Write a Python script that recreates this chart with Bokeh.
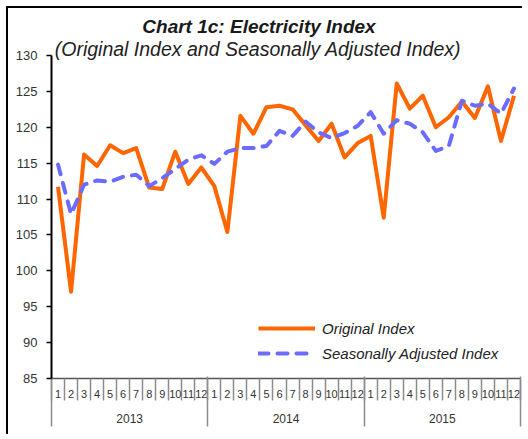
from bokeh.plotting import figure
from bokeh.models import Range1d, LinearAxis, FixedTicker, Legend, LegendItem, Label
from bokeh.embed import file_html
from bokeh.resources import INLINE

# ---- data ----
years = ["2013", "2014", "2015"]
months = ["1", "2", "3", "4", "5", "6", "7", "8", "9", "10", "11", "12"]
original_index = [111.7, 97.1, 116.2, 114.6, 117.5, 116.4, 117.1, 111.6, 111.4, 116.6, 112.1, 114.4,
                  111.8, 105.4, 121.6, 119.1, 122.8, 123.0, 122.5, 120.3, 118.1, 120.5, 115.8, 117.8,
                  118.8, 107.4, 126.1, 122.6, 124.4, 120.0, 121.4, 123.6, 121.3, 125.7, 118.1, 124.4]
seasonally_adjusted = [114.8, 107.9, 112.0, 112.6, 112.4, 113.1, 113.4, 111.8, 112.9, 114.2, 115.5, 116.1,
                       114.9, 116.6, 117.1, 117.1, 117.4, 119.5, 118.8, 120.8, 119.3, 118.5, 119.2, 120.2,
                       122.1, 119.1, 121.0, 120.5, 119.3, 116.7, 117.4, 123.7, 123.0, 123.3, 121.9, 125.4]
y_ticks = [85, 90, 95, 100, 105, 110, 115, 120, 125, 130]
title_text = "Chart 1c: Electricity Index"
subtitle_text = "(Original Index and Seasonally Adjusted Index)"
series_names = ["Original Index", "Seasonally Adjusted Index"]

FONT = "Liberation Sans"
n = len(original_index)
xs = [i + 0.5 for i in range(n)]

p = figure(width=516, height=428, output_backend="svg", toolbar_location=None,
           x_range=Range1d(0, n), y_range=Range1d(85, 136.55),
           min_border_left=43, min_border_right=4, min_border_top=0, min_border_bottom=58,
           x_axis_type=None, y_axis_type=None)
p.outline_line_color = None
p.background_fill_color = "white"
p.border_fill_color = "white"
p.styles = {"border-top": "2px solid #000", "border-left": "2px solid #000",
            "margin-left": "6px", "margin-top": "6px"}

# y axis
yaxis = LinearAxis(ticker=FixedTicker(ticks=y_ticks), bounds=(y_ticks[0], y_ticks[-1]))
yaxis.axis_line_color = "black"
yaxis.axis_line_width = 2
yaxis.major_tick_out = 5
yaxis.major_tick_in = 0
yaxis.major_tick_line_color = "black"
yaxis.major_tick_line_width = 1.5
yaxis.minor_tick_line_color = None
yaxis.major_label_standoff = 9
yaxis.major_label_text_font = FONT
yaxis.major_label_text_font_size = "13px"
yaxis.major_label_text_color = "#333333"
p.add_layout(yaxis, "left")


def overrides(positions, labels):
    d = {}
    for pos, lab in zip(positions, labels):
        d[float(pos)] = lab
        d[f"{pos:g}"] = lab
    return d


# month axis
month_labels = [months[i % 12] for i in range(n)]
boundaries = list(range(n + 1))
maxis = LinearAxis(ticker=FixedTicker(ticks=xs, minor_ticks=boundaries))
maxis.major_label_overrides = overrides(xs, month_labels)
maxis.axis_line_color = "#555555"
maxis.axis_line_width = 1.5
maxis.major_tick_out = 0
maxis.major_tick_in = 0
maxis.minor_tick_out = 22
maxis.minor_tick_in = 0
maxis.minor_tick_line_color = "#8c8c8c"
maxis.minor_tick_line_width = 1.5
maxis.major_label_standoff = -11
maxis.major_label_text_font = FONT
maxis.major_label_text_font_size = "11px"
maxis.major_label_text_color = "#333333"
p.add_layout(maxis, "below")

# year axis
year_centers = [12 * k + 6 for k in range(len(years))]
year_bounds = [12 * k for k in range(len(years) + 1)]
yraxis = LinearAxis(ticker=FixedTicker(ticks=year_centers, minor_ticks=year_bounds))
yraxis.major_label_overrides = overrides(year_centers, years)
yraxis.axis_line_color = None
yraxis.major_tick_out = 0
yraxis.major_tick_in = 0
yraxis.minor_tick_in = 24
yraxis.minor_tick_out = 26
yraxis.minor_tick_line_color = "#8c8c8c"
yraxis.minor_tick_line_width = 1.5
yraxis.major_label_standoff = -13
yraxis.major_label_text_font = FONT
yraxis.major_label_text_font_size = "12px"
yraxis.major_label_text_color = "#333333"
p.add_layout(yraxis, "below")

# series
r1 = p.line(xs, original_index, line_color="#FF6600", line_width=4, line_join="round")
r2 = p.line(xs, seasonally_adjusted, line_color="#6B6BFF", line_width=4,
            line_dash="10 9", line_cap="round", line_join="round")

legend = Legend(items=[LegendItem(label=series_names[0], renderers=[r1]),
                       LegendItem(label=series_names[1], renderers=[r2])],
                location=(207, 15))
legend.glyph_width = 57
legend.glyph_height = 20
legend.label_height = 20
legend.label_standoff = 7
legend.spacing = 5
legend.padding = 0
legend.margin = 0
legend.border_line_color = None
legend.background_fill_alpha = 0
legend.label_text_font = FONT
legend.label_text_font_style = "italic"
legend.label_text_font_size = "15px"
legend.label_text_color = "#222222"
p.add_layout(legend)

p.add_layout(Label(x=207.5, y=352.5, x_units="screen", y_units="screen", text=title_text,
                   text_align="center", text_baseline="alphabetic", text_font=FONT,
                   text_font_size="19px", text_font_style="bold italic", text_color="#1a1a1a"))
p.add_layout(Label(x=206.5, y=329.5, x_units="screen", y_units="screen", text=subtitle_text,
                   text_align="center", text_baseline="alphabetic", text_font=FONT,
                   text_font_size="19.5px", text_font_style="italic", text_color="#222222"))

open("out.html", "w").write(file_html(p, INLINE))
